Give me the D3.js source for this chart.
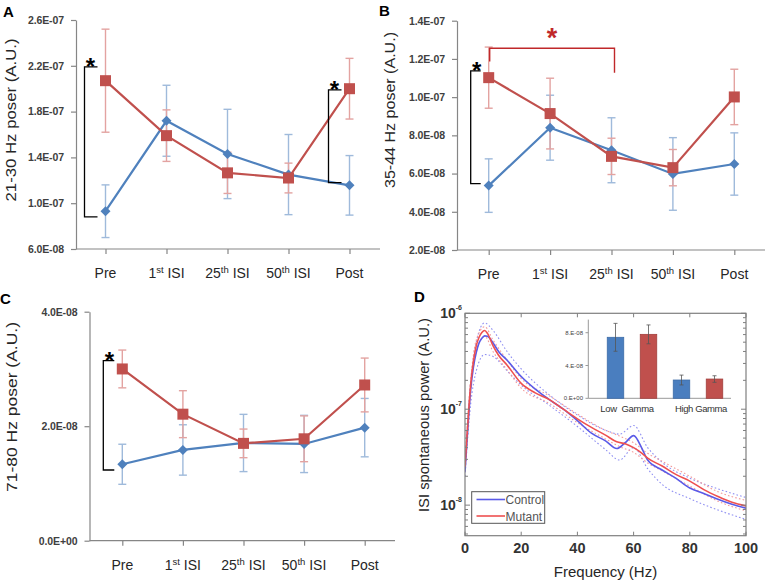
<!DOCTYPE html>
<html><head><meta charset="utf-8">
<script src="https://cdn.jsdelivr.net/npm/d3@7"></script>
<style>
body{margin:0;background:#fff;}
svg{display:block;font-family:"Liberation Sans",Arial,sans-serif;}
</style></head><body>
<svg id="chart" width="767" height="583"></svg>
<script>
// ---------- DATA ----------
const categories = ["Pre", "1st ISI", "25th ISI", "50th ISI", "Post"];
const seriesNames = ["Control", "Mutant"];

// Panel A: 21-30 Hz
const aTicks = [6e-8, 1.0e-7, 1.4e-7, 1.8e-7, 2.2e-7, 2.6e-7];
const aControl = [0.93e-7, 1.72e-7, 1.43e-7, 1.25e-7, 1.156e-7];
const aControlErr = [0.23e-7, 0.31e-7, 0.39e-7, 0.35e-7, 0.26e-7];
const aMutant = [2.07e-7, 1.59e-7, 1.265e-7, 1.22e-7, 2.0e-7];
const aMutantErr = [0.45e-7, 0.225e-7, 0.18e-7, 0.13e-7, 0.265e-7];
const aBrackets = [{cat: "Pre", top: 2.19e-7, bottom: 0.88e-7}, {cat: "Post", top: 1.99e-7, bottom: 1.18e-7}];

// Panel B: 35-44 Hz
const bTicks = [2e-8, 4e-8, 6e-8, 8e-8, 1.0e-7, 1.2e-7, 1.4e-7];
const bControl = [5.37e-8, 8.40e-8, 7.22e-8, 5.98e-8, 6.5e-8];
const bControlErr = [1.4e-8, 1.7e-8, 1.7e-8, 1.9e-8, 1.63e-8];
const bMutant = [1.102e-7, 9.14e-8, 6.9e-8, 6.31e-8, 1.001e-7];
const bMutantErr = [1.6e-8, 1.85e-8, 0.95e-8, 0.95e-8, 1.45e-8];
const bBrackets = [{cat: "Pre", top: 1.137e-7, bottom: 0.547e-7}];
const bSpan = {from: "Pre", to: "25th ISI", level: 1.256e-7, leftEnd: 1.186e-7, rightEnd: 1.128e-7};

// Panel C: 71-80 Hz
const cTicks = [0, 2e-8, 4e-8];
const cControl = [1.335e-8, 1.585e-8, 1.707e-8, 1.69e-8, 1.975e-8];
const cControlErr = [0.35e-8, 0.44e-8, 0.5e-8, 0.5e-8, 0.51e-8];
const cMutant = [3.0e-8, 2.21e-8, 1.70e-8, 1.78e-8, 2.72e-8];
const cMutantErr = [0.33e-8, 0.41e-8, 0.25e-8, 0.4e-8, 0.47e-8];
const cBrackets = [{cat: "Pre", top: 3.145e-8, bottom: 1.235e-8}];

// Panel D: ISI spontaneous power spectrum
const dFreq = [0,1,2,3,4,5,6,7,8,10,12,15,20,25,30,35,40,45,50,54,57,60,63,65,70,75,80,85,90,95,100];
const dControl = [2.24e-8,6.31e-8,1.58e-7,2.75e-7,3.89e-7,4.90e-7,5.50e-7,5.81e-7,5.75e-7,4.90e-7,3.98e-7,3.24e-7,2.19e-7,1.62e-7,1.26e-7,1.0e-7,7.59e-8,5.62e-8,4.68e-8,3.89e-8,4.47e-8,5.31e-8,3.89e-8,2.95e-8,2.34e-8,1.91e-8,1.51e-8,1.32e-8,1.15e-8,1.02e-8,9.3e-9];
const dMutant = [2.51e-8,7.08e-8,1.78e-7,3.16e-7,4.57e-7,5.62e-7,6.31e-7,6.61e-7,6.17e-7,4.57e-7,3.63e-7,2.88e-7,1.86e-7,1.48e-7,1.26e-7,1.0e-7,7.94e-8,6.46e-8,5.37e-8,4.57e-8,4.37e-8,3.98e-8,3.47e-8,3.09e-8,2.57e-8,2.09e-8,1.78e-8,1.45e-8,1.23e-8,1.07e-8,9.8e-9];
const dBandFreq = [0,2,4,7,10,15,20,30,40,50,55,60,65,70,80,90,100];
const dControlUpper = [2.51e-8,1.91e-7,5.01e-7,7.94e-7,6.61e-7,3.98e-7,2.63e-7,1.41e-7,8.71e-8,6.03e-8,5.50e-8,6.76e-8,3.98e-8,2.82e-8,1.91e-8,1.48e-8,1.20e-8];
const dControlLower = [2.0e-8,1.12e-7,2.51e-7,3.72e-7,3.55e-7,2.51e-7,1.78e-7,1.10e-7,6.61e-8,3.80e-8,2.95e-8,3.98e-8,2.40e-8,1.66e-8,1.17e-8,8.9e-9,7.1e-9];
const dMutantUpper = [2.82e-8,2.0e-7,5.25e-7,7.24e-7,5.25e-7,3.24e-7,2.09e-7,1.38e-7,8.91e-8,6.03e-8,5.25e-8,4.47e-8,3.47e-8,2.88e-8,2.0e-8,1.38e-8,1.12e-8];
const dMutantLower = [2.24e-8,1.58e-7,3.98e-7,5.75e-7,3.98e-7,2.57e-7,1.66e-7,1.15e-7,7.24e-8,4.90e-8,4.07e-8,3.55e-8,2.75e-8,2.29e-8,1.58e-8,1.10e-8,8.7e-9];
const dXTicks = [0, 20, 40, 60, 80, 100];
const dYMajor = [1e-8, 1e-7, 1e-6];

// Inset: gamma band power
const insetGroups = ["Low Gamma", "High Gamma"];
const insetControl = [7.44e-8, 2.23e-8];
const insetControlErr = [1.7e-8, 0.6e-8];
const insetMutant = [7.8e-8, 2.35e-8];
const insetMutantErr = [1.15e-8, 0.4e-8];
const insetTicks = [0, 4e-8, 8e-8];

// ---------- STYLE ----------
const BLUE = "#4F81BD", RED = "#C0504D";
const BLUE_ERR = "#9FBADB", RED_ERR = "#E3A3A1";
const AXIS = "#868686";
const svg = d3.select("#chart");

function sci(v) {
  if (v === 0) return "0.0E+00";
  const e = Math.floor(Math.log10(Math.abs(v)) + 1e-9);
  const m = v / Math.pow(10, e);
  return m.toFixed(1) + "E" + (e < 0 ? "-" : "+") + String(Math.abs(e)).padStart(2, "0");
}
function sciShort(v) {
  if (v === 0) return "0.E+00";
  const e = Math.floor(Math.log10(Math.abs(v)) + 1e-9);
  const m = v / Math.pow(10, e);
  return m.toFixed(0) + ".E" + (e < 0 ? "-" : "+") + String(Math.abs(e)).padStart(2, "0");
}
function catLabel(sel, label) {
  const m = label.match(/^(\d+)(st|nd|rd|th)(.*)$/);
  if (m) {
    sel.append("tspan").text(m[1]);
    sel.append("tspan").attr("font-size", "9.5px").attr("dy", -5).text(m[2]);
    sel.append("tspan").attr("dy", 5).text(m[3]);
  } else sel.text(label);
}

function drawLinePanel(cfg) {
  const g = svg.append("g");
  const x = d3.scalePoint().domain(categories).range(cfg.xRange).padding(0.5);
  const y = d3.scaleLinear().domain(cfg.yDomain).range(cfg.yRange);
  const baseY = cfg.yRange[0];

  // x axis
  const xa = g.append("g").attr("transform", `translate(0,${baseY})`)
    .call(d3.axisBottom(x).tickSize(5).tickSizeOuter(0).tickFormat(() => ""));
  xa.select(".domain").attr("d", `M${cfg.axisX},0H${cfg.xRange[1]}`);
  xa.selectAll("path,line").attr("stroke", AXIS).attr("stroke-width", 1.2);
  categories.forEach(c => {
    const t = g.append("text").attr("x", x(c)).attr("y", baseY + 29)
      .attr("text-anchor", "middle").attr("font-size", "14px").attr("fill", "#262626");
    catLabel(t, c);
  });

  // y axis
  const ya = g.append("g").attr("transform", `translate(${cfg.axisX},0)`)
    .call(d3.axisLeft(y).tickValues(cfg.yTicks).tickFormat(sci).tickSize(5).tickPadding(7).tickSizeOuter(0));
  ya.selectAll("path,line").attr("stroke", AXIS).attr("stroke-width", 1.2);
  ya.selectAll("text").attr("font-size", "10.5px").attr("font-weight", "bold").attr("fill", "#404040")
    .attr("letter-spacing", "-0.1px");

  // y title
  g.append("text").attr("transform", `translate(${cfg.titleX},${cfg.titleY}) rotate(-90)`)
    .attr("text-anchor", "middle").attr("font-size", "15px").attr("fill", "#262626")
    .attr("textLength", cfg.titleLen).attr("lengthAdjust", "spacingAndGlyphs")
    .text(cfg.title);

  // panel letter
  g.append("text").attr("x", cfg.letterX).attr("y", cfg.letterY).attr("font-size", "15px")
    .attr("font-weight", "bold").attr("fill", "#000").text(cfg.letter);

  const series = [
    {vals: cfg.ctrl, err: cfg.ctrlErr, color: BLUE, ecolor: BLUE_ERR, marker: "diamond"},
    {vals: cfg.mut, err: cfg.mutErr, color: RED, ecolor: RED_ERR, marker: "square"}
  ];
  // error bars
  series.forEach(s => {
    categories.forEach((c, i) => {
      const cx = x(c), y1 = y(s.vals[i] + s.err[i]), y0 = y(s.vals[i] - s.err[i]);
      g.append("line").attr("x1", cx).attr("x2", cx).attr("y1", y1).attr("y2", y0)
        .attr("stroke", s.ecolor).attr("stroke-width", 1.4);
      [y1, y0].forEach(yy => g.append("line").attr("x1", cx - 4).attr("x2", cx + 4)
        .attr("y1", yy).attr("y2", yy).attr("stroke", s.ecolor).attr("stroke-width", 1.4));
    });
  });
  // lines + markers
  series.forEach(s => {
    const line = d3.line().x((d, i) => x(categories[i])).y(d => y(d));
    g.append("path").datum(s.vals).attr("d", line).attr("fill", "none")
      .attr("stroke", s.color).attr("stroke-width", 2.2);
    s.vals.forEach((v, i) => {
      const cx = x(categories[i]), cy = y(v);
      if (s.marker === "diamond") {
        g.append("path").attr("d", `M${cx},${cy - 5}L${cx + 5},${cy}L${cx},${cy + 5}L${cx - 5},${cy}Z`)
          .attr("fill", s.color);
      } else {
        g.append("rect").attr("x", cx - 5.5).attr("y", cy - 5.5).attr("width", 11).attr("height", 11)
          .attr("fill", s.color);
      }
    });
  });
  // significance brackets
  cfg.brackets.forEach(b => {
    const bx = x(b.cat) - cfg.bracketDx, ex = x(b.cat) - 8;
    const yt = y(b.top), yb = y(b.bottom);
    g.append("path").attr("d", `M${ex},${yt}H${bx}V${yb}H${ex}`).attr("fill", "none")
      .attr("stroke", "#000").attr("stroke-width", 1.3);
    g.append("text").attr("x", bx + 6).attr("y", yt + 8).attr("text-anchor", "middle")
      .attr("font-size", "24px").attr("font-weight", "bold").attr("fill", "#000").text("*");
  });
  return {x, y, g};
}

// ---------- PANEL A ----------
drawLinePanel({
  xRange: [75, 380], axisX: 76, yDomain: [6e-8, 2.6e-7], yRange: [249, 20], yTicks: aTicks,
  ctrl: aControl, ctrlErr: aControlErr, mut: aMutant, mutErr: aMutantErr,
  title: "21-30 Hz poser (A.U.)", titleX: 16, titleY: 120, titleLen: 163,
  letter: "A", letterX: 3, letterY: 17, brackets: aBrackets, bracketDx: 21
});

// ---------- PANEL B ----------
const pB = drawLinePanel({
  xRange: [458, 765], axisX: 457, yDomain: [2e-8, 1.4e-7], yRange: [250, 20.7], yTicks: bTicks,
  ctrl: bControl, ctrlErr: bControlErr, mut: bMutant, mutErr: bMutantErr,
  title: "35-44 Hz poser (A.U.)", titleX: 395, titleY: 110, titleLen: 156,
  letter: "B", letterX: 379, letterY: 16, brackets: bBrackets, bracketDx: 18
});
{
  const x1 = pB.x(bSpan.from) + 1, x2 = pB.x(bSpan.to) + 3;
  pB.g.append("path")
    .attr("d", `M${x1},${pB.y(bSpan.leftEnd)}V${pB.y(bSpan.level)}H${x2}V${pB.y(bSpan.rightEnd)}`)
    .attr("fill", "none").attr("stroke", "#C0282A").attr("stroke-width", 1.4);
  pB.g.append("text").attr("x", (x1 + x2) / 2).attr("y", 47).attr("text-anchor", "middle")
    .attr("font-size", "27px").attr("font-weight", "bold").attr("fill", "#C0282A").text("*");
}

// ---------- PANEL C ----------
drawLinePanel({
  xRange: [92, 395], axisX: 89.5, yDomain: [0, 4e-8], yRange: [540.7, 311.7], yTicks: cTicks,
  ctrl: cControl, ctrlErr: cControlErr, mut: cMutant, mutErr: cMutantErr,
  title: "71-80 Hz poser (A.U.)", titleX: 17, titleY: 407, titleLen: 170,
  letter: "C", letterX: 0, letterY: 304, brackets: cBrackets, bracketDx: 19
});

// ---------- PANEL D ----------
{
  const g = svg.append("g");
  const L = 465, R = 746, T = 313.3, B = 535.7;
  const x = d3.scaleLinear().domain([0, 100]).range([L, R]);
  const y = d3.scaleLog().domain([4.8e-9, 1e-6]).range([B, T]);
  const FRAME = "#7f7f7f";

  g.append("defs").append("clipPath").attr("id", "dclip").append("rect")
    .attr("x", L).attr("y", T).attr("width", R - L).attr("height", B - T);

  // bands
  const bands = [
    {u: dControlUpper, l: dControlLower, c: "#8f8ff2"},
    {u: dMutantUpper, l: dMutantLower, c: "#f29a9a"}
  ];
  const bandLine = d3.line().x((d, i) => x(dBandFreq[i])).y(d => y(d)).curve(d3.curveMonotoneX);
  bands.forEach(b => {
    [b.u, b.l].forEach(arr => g.append("path").datum(arr).attr("d", bandLine)
      .attr("clip-path", "url(#dclip)").attr("fill", "none").attr("stroke", b.c)
      .attr("stroke-width", 1.1).attr("stroke-dasharray", "1.6,2.2"));
  });
  const meanLine = d3.line().x((d, i) => x(dFreq[i])).y(d => y(d)).curve(d3.curveMonotoneX);
  g.append("path").datum(dControl).attr("d", meanLine).attr("clip-path", "url(#dclip)")
    .attr("fill", "none").attr("stroke", "#5a5ae8").attr("stroke-width", 1.6);
  g.append("path").datum(dMutant).attr("d", meanLine).attr("clip-path", "url(#dclip)")
    .attr("fill", "none").attr("stroke", "#ee5050").attr("stroke-width", 1.6);

  // frame
  g.append("rect").attr("x", L).attr("y", T).attr("width", R - L).attr("height", B - T)
    .attr("fill", "none").attr("stroke", FRAME).attr("stroke-width", 1.2);
  // x ticks (inward, top and bottom)
  dXTicks.forEach(t => {
    const xx = x(t);
    g.append("line").attr("x1", xx).attr("x2", xx).attr("y1", B).attr("y2", B - 4).attr("stroke", FRAME);
    g.append("line").attr("x1", xx).attr("x2", xx).attr("y1", T).attr("y2", T + 4).attr("stroke", FRAME);
    g.append("text").attr("x", xx).attr("y", B + 17).attr("text-anchor", "middle")
      .attr("font-size", "14.5px").attr("font-weight", "bold").attr("fill", "#333").text(t);
  });
  // y ticks (log)
  const [lo, hi] = y.domain();
  for (let e = -9; e <= -6; e++) {
    for (let m = 1; m <= 9; m++) {
      const v = m * Math.pow(10, e);
      if (v < lo * 0.999 || v > hi * 1.001) continue;
      const len = m === 1 ? 5 : 3, yy = y(v);
      g.append("line").attr("x1", L).attr("x2", L + len).attr("y1", yy).attr("y2", yy).attr("stroke", FRAME);
      g.append("line").attr("x1", R).attr("x2", R - len).attr("y1", yy).attr("y2", yy).attr("stroke", FRAME);
    }
  }
  dYMajor.forEach(v => {
    const e = Math.round(Math.log10(v));
    const t = g.append("text").attr("x", L - 3).attr("y", y(v) + 5).attr("text-anchor", "end")
      .attr("font-size", "14px").attr("font-weight", "bold").attr("fill", "#333");
    t.append("tspan").text("10");
    t.append("tspan").attr("font-size", "7px").attr("dy", -8).text(String(e));
  });
  g.append("text").attr("x", (L + R) / 2).attr("y", 577).attr("text-anchor", "middle")
    .attr("font-size", "15px").attr("fill", "#262626").text("Frequency (Hz)");
  g.append("text").attr("transform", `translate(429,415) rotate(-90)`)
    .attr("text-anchor", "middle").attr("font-size", "15px").attr("fill", "#262626")
    .attr("textLength", 194).attr("lengthAdjust", "spacingAndGlyphs")
    .text("ISI spontaneous power (A.U.)");
  g.append("text").attr("x", 414).attr("y", 302).attr("font-size", "15px")
    .attr("font-weight", "bold").attr("fill", "#000").text("D");

  // legend
  const lg = g.append("g");
  lg.append("rect").attr("x", 471.7).attr("y", 491.7).attr("width", 73).attr("height", 31.6)
    .attr("fill", "#fff").attr("stroke", "#555").attr("stroke-width", 1);
  [{n: seriesNames[0], c: "#5a5ae8", yy: 499.5}, {n: seriesNames[1], c: "#ee5050", yy: 516}].forEach(it => {
    lg.append("line").attr("x1", 476.5).attr("x2", 505).attr("y1", it.yy).attr("y2", it.yy)
      .attr("stroke", it.c).attr("stroke-width", 1.6);
    lg.append("text").attr("x", 505.5).attr("y", it.yy + 4.5).attr("font-size", "12px")
      .attr("fill", "#555").text(it.n);
  });

  // inset bar chart
  const ig = g.append("g");
  const iy = d3.scaleLinear().domain([0, 9.6e-8]).range([398.3, 319.6]);
  const ix0 = d3.scaleBand().domain(insetGroups).range([599, 731]);
  const ix1 = d3.scaleBand().domain(seriesNames).range([0, ix0.bandwidth()]).paddingInner(1).paddingOuter(0.5);
  const bw = 16.5;
  ig.append("line").attr("x1", 588.3).attr("x2", 731).attr("y1", 398.3).attr("y2", 398.3)
    .attr("stroke", "#999").attr("stroke-width", 1);
  ig.append("line").attr("x1", 588.3).attr("x2", 588.3).attr("y1", 398.3).attr("y2", 319.6)
    .attr("stroke", "#999").attr("stroke-width", 1);
  insetTicks.forEach(t => {
    ig.append("line").attr("x1", 585.5).attr("x2", 588.3).attr("y1", iy(t)).attr("y2", iy(t)).attr("stroke", "#999");
    ig.append("text").attr("x", 583).attr("y", iy(t) + 2).attr("text-anchor", "end")
      .attr("font-size", "6px").attr("fill", "#444").text(sciShort(t));
  });
  const bars = [
    {vals: insetControl, err: insetControlErr, name: seriesNames[0], fill: "#4A7EBF", stroke: "#3d6ca8"},
    {vals: insetMutant, err: insetMutantErr, name: seriesNames[1], fill: "#C0504D", stroke: "#a43f3c"}
  ];
  bars.forEach(s => {
    insetGroups.forEach((grp, i) => {
      const cx = ix0(grp) + ix1(s.name);
      ig.append("rect").attr("x", cx - bw / 2).attr("y", iy(s.vals[i])).attr("width", bw)
        .attr("height", iy(0) - iy(s.vals[i])).attr("fill", s.fill).attr("stroke", s.stroke).attr("stroke-width", 0.8);
      const yt = iy(s.vals[i] + s.err[i]), yb = iy(s.vals[i] - s.err[i]);
      ig.append("line").attr("x1", cx).attr("x2", cx).attr("y1", yt).attr("y2", yb).attr("stroke", "#555").attr("stroke-width", 0.8);
      [yt, yb].forEach(yy => ig.append("line").attr("x1", cx - 2).attr("x2", cx + 2).attr("y1", yy).attr("y2", yy)
        .attr("stroke", "#555").attr("stroke-width", 0.8));
    });
  });
  ig.append("text").attr("x", ix0("Low Gamma") + ix0.bandwidth() / 2 - 5).attr("y", 412).attr("text-anchor", "middle")
    .attr("font-size", "9.5px").attr("fill", "#333").attr("letter-spacing", "-0.3px")
    .attr("xml:space", "preserve").style("white-space", "pre").text("Low  Gamma");
  ig.append("text").attr("x", ix0("High Gamma") + ix0.bandwidth() / 2 + 3).attr("y", 412).attr("text-anchor", "middle")
    .attr("font-size", "9.5px").attr("fill", "#333").attr("letter-spacing", "-0.4px").text("High Gamma");
}
</script>
</body></html>
